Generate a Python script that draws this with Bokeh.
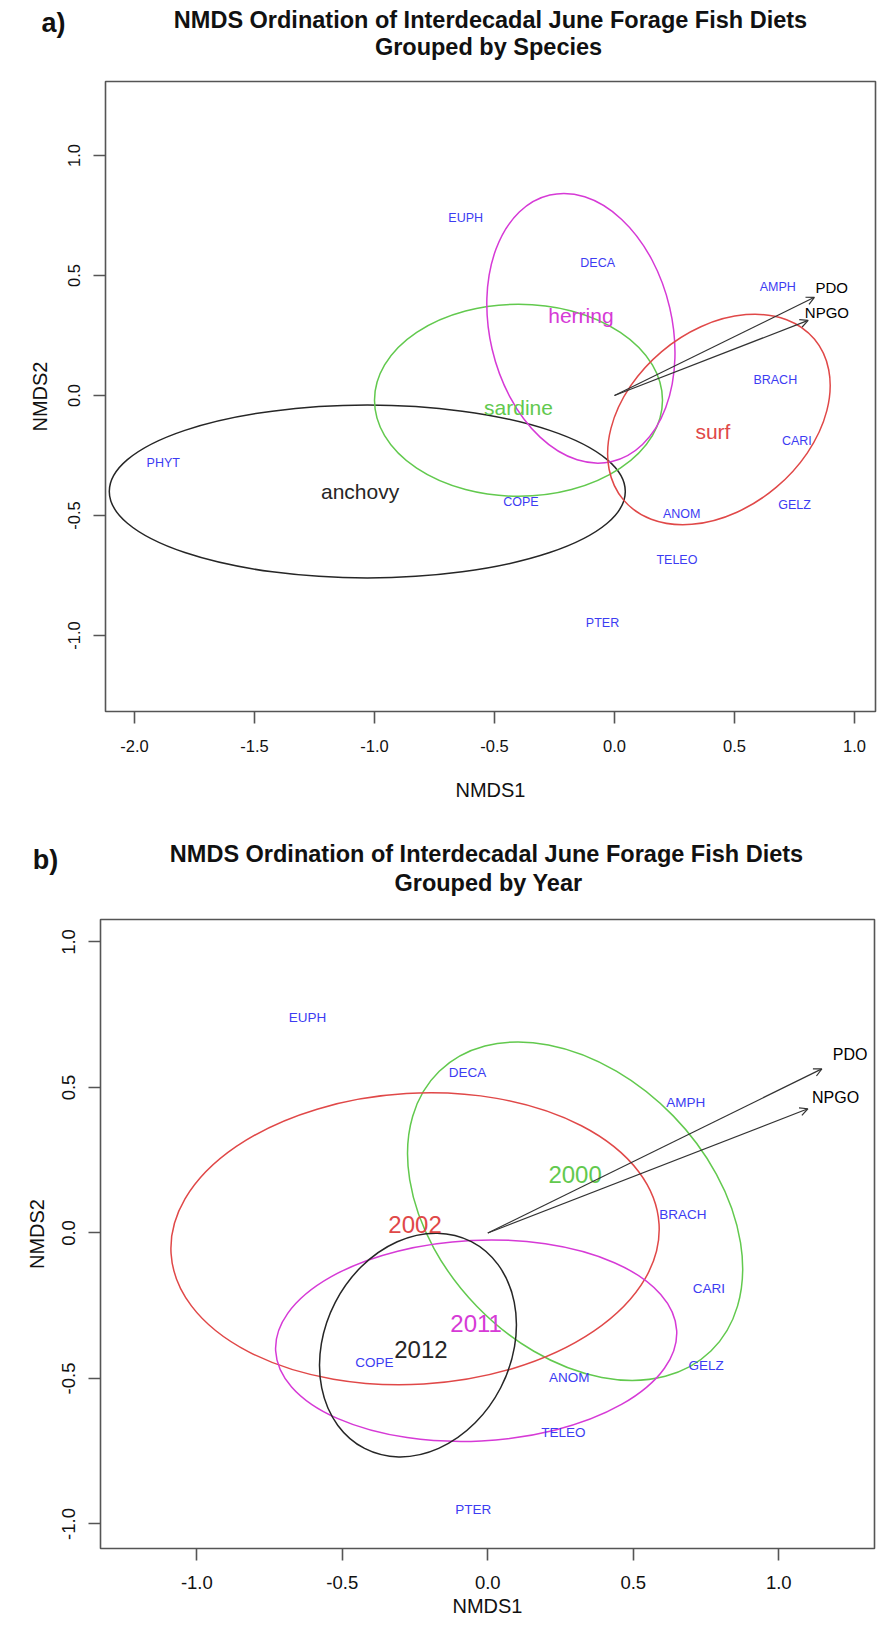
import numpy as np
from bokeh.plotting import figure
from bokeh.models import ColumnDataSource, Arrow, OpenHead, Range1d, FixedTicker
from bokeh.layouts import column
from bokeh.embed import file_html
from bokeh.resources import INLINE
from bokeh.core.properties import value

FONT = "Liberation Sans"

# ---------------- data ----------------
species = ["EUPH", "DECA", "AMPH", "BRACH", "CARI", "PHYT", "COPE", "ANOM", "GELZ", "TELEO", "PTER"]
species_x = [-0.62, -0.07, 0.68, 0.67, 0.76, -1.88, -0.39, 0.28, 0.75, 0.26, -0.05]
species_y = [0.74, 0.55, 0.45, 0.065, -0.19, -0.28, -0.445, -0.495, -0.455, -0.685, -0.95]

env_vars = ["PDO", "NPGO"]
env_x_a = [0.833, 0.807]
env_y_a = [0.409, 0.313]
env_lx_a = [0.905, 0.885]
env_ly_a = [0.452, 0.347]
env_x_b = [1.148, 1.100]
env_y_b = [0.564, 0.427]
env_lx_b = [1.245, 1.195]
env_ly_b = [0.612, 0.465]

groups_a = ["anchovy", "sardine", "herring", "surf"]
ga_cx = [-1.03, -0.40, -0.14, 0.435]
ga_cy = [-0.40, -0.02, 0.28, -0.10]
ga_w = [2.15, 1.20, 1.14, 1.04]
ga_h = [0.72, 0.80, 0.76, 0.74]
ga_ang = [0.0, 0.0, 1.80, 0.70]
ga_lx = [-1.06, -0.40, -0.14, 0.41]
ga_ly = [-0.40, -0.05, 0.335, -0.15]

groups_b = ["2000", "2002", "2011", "2012"]
gb_cx = [0.30, -0.25, -0.04, -0.24]
gb_cy = [0.075, -0.02, -0.37, -0.385]
gb_w = [1.34, 1.68, 1.38, 0.80]
gb_h = [0.94, 1.00, 0.69, 0.64]
gb_ang = [-0.80, 0.06, 0.05, 1.094]
gb_lx = [0.30, -0.25, -0.04, -0.23]
gb_ly = [0.20, 0.03, -0.31, -0.40]

xticks_a = [-2.0, -1.5, -1.0, -0.5, 0.0, 0.5, 1.0]
xticklabels_a = ["-2.0", "-1.5", "-1.0", "-0.5", "0.0", "0.5", "1.0"]
yticks_a = [-1.0, -0.5, 0.0, 0.5, 1.0]
yticklabels_a = ["-1.0", "-0.5", "0.0", "0.5", "1.0"]
xticks_b = [-1.0, -0.5, 0.0, 0.5, 1.0]
xticklabels_b = ["-1.0", "-0.5", "0.0", "0.5", "1.0"]
yticks_b = [-1.0, -0.5, 0.0, 0.5, 1.0]
yticklabels_b = ["-1.0", "-0.5", "0.0", "0.5", "1.0"]

title_line1 = "NMDS Ordination of Interdecadal June Forage Fish Diets"
title_line2_a = "Grouped by Species"
title_line2_b = "Grouped by Year"

COL_A = {"anchovy": "#262626", "sardine": "#62C94E", "herring": "#D63AD6", "surf": "#E04848"}
COL_B = {"2000": "#62C94E", "2002": "#E04848", "2011": "#D63AD6", "2012": "#262626"}
SPECIES_COLOR = "#3C3CF2"
FRAME = "#555555"


def make_header(height, tag, line2, tag_xy, l1_xy, l2_xy):
    h = figure(width=878, height=height, x_range=Range1d(0, 878), y_range=Range1d(0, height),
               output_backend="svg", toolbar_location=None, tools="",
               x_axis_location=None, y_axis_location=None)
    h.frame_align = False
    h.min_border_left = 0
    h.min_border_right = 0
    h.min_border_top = 0
    h.min_border_bottom = 0
    h.outline_line_color = None
    h.xgrid.visible = False
    h.ygrid.visible = False
    src = ColumnDataSource(dict(x=[l1_xy[0], l2_xy[0]], y=[l1_xy[1], l2_xy[1]],
                                t=[title_line1, line2]))
    h.text(x="x", y="y", text="t", source=src, text_font=value(FONT),
           text_font_size=value("23.5px"), text_font_style="bold", text_color="#111111",
           text_align="center", text_baseline="middle")
    tsrc = ColumnDataSource(dict(x=[tag_xy[0]], y=[tag_xy[1]], t=[tag]))
    h.text(x="x", y="y", text="t", source=tsrc, text_font=value(FONT),
           text_font_size=value("27px"), text_font_style="bold", text_color="#111111",
           text_align="center", text_baseline="middle")
    return h


def make_panel(height, borders, xr, yr, xticks, xlabels, yticks, ylabels,
               tick_font, lab_font, std_x, std_lab_x, std_y, std_lab_y):
    p = figure(width=878, height=height, x_range=Range1d(*xr), y_range=Range1d(*yr),
               output_backend="svg", toolbar_location=None, tools="")
    p.frame_align = False
    p.min_border_left, p.min_border_right, p.min_border_top, p.min_border_bottom = borders
    p.xgrid.visible = False
    p.ygrid.visible = False
    p.outline_line_color = FRAME
    p.outline_line_width = 1.6
    for ax, ticks, labels in ((p.xaxis[0], xticks, xlabels), (p.yaxis[0], yticks, ylabels)):
        ax.ticker = FixedTicker(ticks=ticks)
        ax.major_label_overrides = {t: l for t, l in zip(ticks, labels)}
        ax.axis_line_color = None
        ax.major_tick_line_color = FRAME
        ax.major_tick_line_width = 1.6
        ax.major_tick_in = 0
        ax.major_tick_out = 12
        ax.minor_tick_line_color = None
        ax.major_label_text_font = FONT
        ax.major_label_text_font_size = tick_font
        ax.major_label_text_color = "#111111"
        ax.axis_label_text_font = FONT
        ax.axis_label_text_font_size = lab_font
        ax.axis_label_text_font_style = "normal"
        ax.axis_label_text_color = "#111111"
    p.xaxis[0].axis_label = "NMDS1"
    p.yaxis[0].axis_label = "NMDS2"
    p.xaxis[0].major_label_standoff = std_x
    p.xaxis[0].axis_label_standoff = std_lab_x
    p.yaxis[0].major_label_standoff = std_y
    p.yaxis[0].axis_label_standoff = std_lab_y
    p.yaxis[0].major_label_orientation = "vertical"
    return p


def add_content(p, groups, cx, cy, w, h, ang, lx, ly, cols, grp_font,
                ex, ey, elx, ely, sp_font, env_font, show_species):
    esrc = ColumnDataSource(dict(x=cx, y=cy, w=w, h=h, a=ang,
                                 c=[cols[g] for g in groups]))
    p.ellipse(x="x", y="y", width="w", height="h", angle="a", source=esrc,
              fill_color=None, line_color="c", line_width=1.5)
    lsrc = ColumnDataSource(dict(x=lx, y=ly, t=groups, c=[cols[g] for g in groups]))
    p.text(x="x", y="y", text="t", text_color="c", source=lsrc, text_font=value(FONT),
           text_font_size=value(grp_font), text_align="center", text_baseline="middle")
    ssrc = ColumnDataSource(dict(x=[species_x[i] for i in show_species],
                                 y=[species_y[i] for i in show_species],
                                 t=[species[i] for i in show_species]))
    p.text(x="x", y="y", text="t", source=ssrc, text_color=SPECIES_COLOR,
           text_font=value(FONT), text_font_size=value(sp_font),
           text_align="center", text_baseline="middle")
    asrc = ColumnDataSource(dict(x0=[0.0] * len(ex), y0=[0.0] * len(ey), x1=ex, y1=ey))
    p.add_layout(Arrow(end=OpenHead(size=8, line_color="#333333", line_width=1.2),
                       x_start="x0", y_start="y0", x_end="x1", y_end="y1", source=asrc,
                       line_color="#333333", line_width=1.2))
    tsrc = ColumnDataSource(dict(x=elx, y=ely, t=env_vars))
    p.text(x="x", y="y", text="t", source=tsrc, text_color="#000000",
           text_font=value(FONT), text_font_size=value(env_font),
           text_align="center", text_baseline="middle")


# ---------------- panel a ----------------
ha = make_header(79, "a)", title_line2_a, (53, 57), (490, 60), (488, 33))
pa = make_panel(736, (105, 3, 2, 104), (-2.1208, 1.0875), (-1.3167, 1.3083),
                xticks_a, xticklabels_a, yticks_a, yticklabels_a,
                "16.5px", "20px", 16, 24, 13, 15)
add_content(pa, groups_a, ga_cx, ga_cy, ga_w, ga_h, ga_ang, ga_lx, ga_ly, COL_A, "21px",
            env_x_a, env_y_a, env_lx_a, env_ly_a, "12.5px", "15px",
            list(range(len(species))))

# ---------------- panel b ----------------
hb = make_header(102, "b)", title_line2_b, (45, 58), (486, 64), (488, 35))
pb = make_panel(728, (100, 4, 2, 97), (-1.331, 1.3289), (-1.0842, 1.0773),
                xticks_b, xticklabels_b, yticks_b, yticklabels_b,
                "18.5px", "20px", 15, 3, 13, 12)
b_species = [i for i, s in enumerate(species) if s != "PHYT"]
add_content(pb, groups_b, gb_cx, gb_cy, gb_w, gb_h, gb_ang, gb_lx, gb_ly, COL_B, "24px",
            env_x_b, env_y_b, env_lx_b, env_ly_b, "13.5px", "16px", b_species)

layout = column(ha, pa, hb, pb, spacing=0)
open("out.html", "w").write(file_html(layout, INLINE))
